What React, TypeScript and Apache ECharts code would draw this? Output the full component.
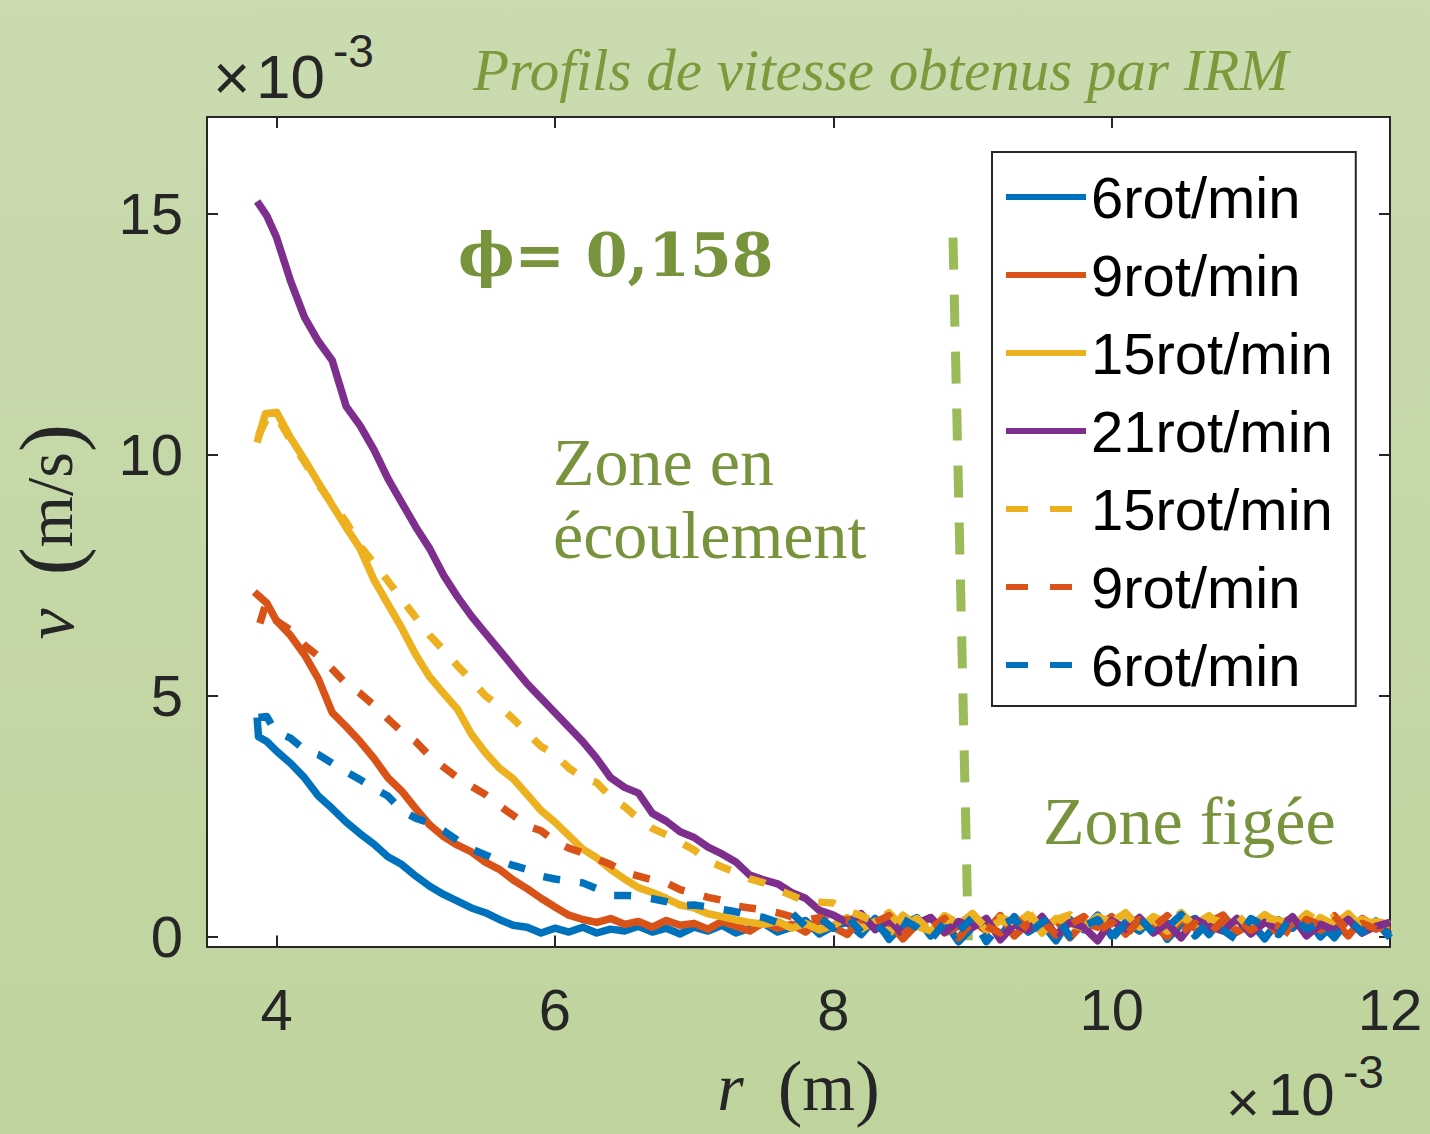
import React, { useEffect, useRef } from "react";
import * as echarts from "echarts";

// r grid (×10^-3 m)
const R = [
  4.0, 4.1, 4.2, 4.3, 4.4, 4.5, 4.6, 4.7, 4.8, 4.9,
  5.0, 5.1, 5.2, 5.3, 5.4, 5.5, 5.6, 5.7, 5.8, 5.9,
  6.0, 6.1, 6.2, 6.3, 6.4, 6.5, 6.6, 6.7, 6.8, 6.9,
  7.0, 7.1, 7.2, 7.3, 7.4, 7.5, 7.6, 7.7, 7.8, 7.9,
  8.0, 8.1, 8.2, 8.3, 8.4, 8.5, 8.6, 8.7, 8.8, 8.9,
  9.0, 9.1, 9.2, 9.3, 9.4, 9.5, 9.6, 9.7, 9.8, 9.9,
  10.0, 10.1, 10.2, 10.3, 10.4, 10.5, 10.6, 10.7, 10.8, 10.9,
  11.0, 11.1, 11.2, 11.3, 11.4, 11.5, 11.6, 11.7, 11.8, 11.9,
  12.0,
];

// first measured points (before r = 4)
const blueSolidHead = [[3.86, 4.55], [3.87, 4.15], [3.93, 4.05]];
const blueDashHead = [[3.87, 4.55], [3.93, 4.57], [3.97, 4.36]];
const redSolidHead = [[3.84, 7.15], [3.93, 6.92]];
const redDashHead = [[3.88, 6.5], [3.92, 6.88], [3.97, 6.65]];
const yellowSolidHead = [[3.86, 10.25], [3.92, 10.85]];
const yellowDashHead = [[3.87, 10.4], [3.93, 10.75]];
const purpleHead = [[3.86, 15.25], [3.93, 14.95]];

// v (×10^-3 m/s) on the R grid
const blueSolidV = [
  3.85, 3.6, 3.3, 2.92, 2.66, 2.38, 2.14, 1.92, 1.66, 1.5,
  1.26, 1.05, 0.88, 0.74, 0.6, 0.5, 0.36, 0.24, 0.2, 0.08,
  0.18, 0.1, 0.2, 0.08, 0.16, 0.12, 0.22, 0.1, 0.18, 0.06,
  0.2, 0.12, 0.24, 0.08, 0.18, 0.28, 0.1, 0.2, 0.34, 0.06,
  0.22, 0.3, 0.05, 0.38, -0.05, 0.25, 0.4, 0.02, 0.32, -0.1,
  0.2, 0.35, 0.0, 0.42, 0.1, 0.28, -0.08, 0.36, 0.15, 0.45,
  0.02, 0.3, 0.12, 0.4, -0.05, 0.26, 0.38, 0.05, 0.44, 0.1,
  0.3, -0.04, 0.35, 0.18, 0.42, 0.0, 0.28, 0.4, 0.08, 0.33,
  -0.02,
];
const blueDashV = [
  4.25, 4.12, 3.88, 3.78, 3.6, 3.42, 3.26, 3.08, 2.92, 2.62,
  2.46, 2.36, 2.2, 2.0, 1.82, 1.7, 1.58, 1.48, 1.4, 1.26,
  1.2, 1.16, 1.12, 1.0, 0.86, 0.86, 0.84, 0.79, 0.73, 0.65,
  0.66, 0.62, 0.57, 0.52, 0.45, 0.4, 0.3, 0.5, 0.22, 0.4,
  0.18, 0.42, 0.1, 0.28, 0.02, 0.36, 0.2, -0.06, 0.3, 0.12,
  0.4, -0.1, 0.24, 0.38, 0.06, 0.3, 0.45, 0.0, 0.22, 0.36,
  -0.04, 0.28, 0.4, 0.08, 0.2, 0.46, 0.02, 0.32, 0.14, -0.06,
  0.38, 0.22, 0.05, 0.44, 0.16, 0.3, -0.02, 0.36, 0.1, 0.26,
  0.04,
];
const redSolidV = [
  6.55, 6.25, 5.85, 5.35, 4.65, 4.36, 4.05, 3.7, 3.3, 3.02,
  2.66, 2.32, 2.08, 1.9, 1.76, 1.55, 1.4, 1.18, 1.0, 0.8,
  0.62, 0.45, 0.36, 0.3, 0.38, 0.26, 0.32, 0.2, 0.34, 0.24,
  0.28, 0.16, 0.32, 0.22, 0.12, 0.3, 0.18, 0.26, 0.1, 0.34,
  0.2, 0.05, 0.38, 0.18, 0.3, -0.04, 0.26, 0.4, 0.08, 0.22,
  0.34, 0.12, 0.44, 0.02, 0.28, 0.16, 0.36, -0.02, 0.3, 0.2,
  0.42, 0.06, 0.32, 0.24, 0.0, 0.38, 0.18, 0.3, 0.45, 0.1,
  0.26, 0.36, 0.06, 0.28, 0.4, 0.14, 0.32, 0.02, 0.38, 0.2,
  0.12,
];
const redDashV = [
  6.55, 6.36, 6.05, 5.82, 5.55, 5.25, 5.05, 4.8, 4.52, 4.25,
  4.05, 3.75, 3.52, 3.3, 3.12, 2.95, 2.72, 2.52, 2.3, 2.2,
  1.98, 1.84, 1.74, 1.62, 1.5, 1.34, 1.26, 1.18, 1.12, 0.98,
  0.9, 0.82, 0.76, 0.64, 0.6, 0.56, 0.5, 0.42, 0.34, 0.4,
  0.26, 0.36, 0.12, 0.3, 0.44, 0.04, 0.28, 0.18, 0.38, -0.02,
  0.32, 0.22, 0.08, 0.4, 0.16, 0.34, 0.04, 0.26, 0.42, 0.12,
  0.3, 0.02, 0.36, 0.2, 0.44, 0.1, 0.28, 0.06, 0.34, 0.4,
  0.14, 0.3, 0.22, 0.02, 0.36, 0.24, 0.44, 0.1, 0.28, 0.16,
  0.34,
];
const yellowSolidV = [
  10.88, 10.35, 9.9, 9.42, 8.95, 8.49, 8.05, 7.4, 6.9, 6.4,
  5.85, 5.39, 5.05, 4.72, 4.2, 3.82, 3.5, 3.28, 2.95, 2.62,
  2.38, 2.1, 1.82, 1.64, 1.4, 1.2, 1.02, 0.92, 0.8, 0.66,
  0.6, 0.48, 0.42, 0.35, 0.3, 0.26, 0.32, 0.18, 0.28, 0.14,
  0.24, 0.4, 0.16, 0.32, 0.06, 0.45, 0.22, 0.12, 0.36, 0.26,
  0.48, 0.14, 0.34, 0.24, 0.46, 0.08, 0.38, 0.28, 0.18, 0.42,
  0.3, 0.5, 0.2, 0.36, 0.12, 0.42, 0.26, 0.44, 0.16, 0.34,
  0.22, 0.46, 0.28, 0.38, 0.12, 0.4, 0.24, 0.48, 0.18, 0.32,
  0.26,
];
const yellowDashV = [
  10.8, 10.3, 9.85, 9.38, 8.98, 8.6, 8.1, 7.75, 7.38, 7.0,
  6.62, 6.25, 5.95, 5.62, 5.32, 5.0, 4.78, 4.52, 4.23, 3.95,
  3.78, 3.5, 3.3, 3.2, 2.9, 2.7, 2.45, 2.25, 2.12, 1.96,
  1.8, 1.58, 1.45, 1.34, 1.2, 1.12, 0.98, 0.86, 0.74, 0.72,
  0.7, 0.54, 0.44, 0.3, 0.5, 0.2, 0.38, 0.12, 0.44, 0.28,
  0.48, 0.18, 0.4, 0.3, 0.52, 0.14, 0.36, 0.46, 0.22, 0.4,
  0.32, 0.48, 0.18, 0.42, 0.28, 0.5, 0.2, 0.38, 0.3, 0.46,
  0.16, 0.4, 0.34, 0.22, 0.48, 0.3, 0.42, 0.12, 0.36, 0.26,
  0.4,
];
const purpleV = [
  14.5, 13.6, 12.85, 12.35, 11.95, 11.0, 10.6, 10.1, 9.5, 9.0,
  8.5, 8.05, 7.5, 7.05, 6.65, 6.3, 5.95, 5.6, 5.25, 4.95,
  4.65, 4.35, 4.05, 3.7, 3.3, 3.1, 2.98, 2.56, 2.4, 2.18,
  2.06, 1.86, 1.72, 1.55, 1.28, 1.18, 1.1, 0.92, 0.8, 0.55,
  0.45, 0.3, 0.48, 0.15, 0.36, 0.05, 0.28, 0.4, 0.1, 0.32,
  0.2, 0.38, -0.06, 0.26, 0.14, 0.42, 0.04, 0.3, 0.2, -0.08,
  0.34, 0.16, 0.4, 0.08, 0.28, -0.02, 0.36, 0.22, 0.12, 0.38,
  0.06, 0.3, 0.18, 0.42, 0.02, 0.26, 0.14, 0.36, 0.08, 0.22,
  0.3,
];

// boundary between flowing and frozen zones (slightly tilted dashed line)
const zoneBoundary = [[8.86, 14.5], [8.97, -0.07]];

const xTicks = [4, 6, 8, 10, 12];
const yTicks = [0, 5, 10, 15];

const BLUE = "#0072BD";
const RED = "#D95319";
const YELLOW = "#EDB120";
const PURPLE = "#7E2F8E";
const GREEN = "#77933C";
const LIGHTGREEN = "#9BBB59";
const AXIS = "#262626";
const SANS = "'Liberation Sans', Arial, Helvetica, sans-serif";
const SERIF = "'Liberation Serif', 'Times New Roman', serif";
const DASH_SUFFIX = " (tirets)";
const NB = "\u00A0";

export default function App() {
  const ref = useRef<HTMLDivElement>(null);

  useEffect(() => {
    if (!ref.current) return;
    const chart = echarts.init(ref.current, null, { renderer: "svg" });
    const lw = 7.5;
    const mk = (name: string, color: string, dashed: boolean, head: number[][], v: number[]) => ({
      name: dashed ? name + DASH_SUFFIX : name,
      type: "line",
      data: head.concat(R.map((r, i) => [r, v[i]])),
      showSymbol: false,
      symbol: "none",
      lineStyle: { color, width: lw, type: dashed ? [17, 20] : "solid", join: "round" },
      itemStyle: { color },
      emphasis: { disabled: true },
      z: 3,
    });

    const series: any[] = [
      {
        name: "frontière",
        type: "line",
        data: zoneBoundary,
        showSymbol: false,
        symbol: "none",
        lineStyle: { color: LIGHTGREEN, width: 9, type: [32, 25] },
        emphasis: { disabled: true },
        z: 2,
      },
      mk("6rot/min", BLUE, false, blueSolidHead, blueSolidV),
      mk("9rot/min", RED, false, redSolidHead, redSolidV),
      mk("15rot/min", YELLOW, false, yellowSolidHead, yellowSolidV),
      mk("21rot/min", PURPLE, false, purpleHead, purpleV),
      mk("15rot/min", YELLOW, true, yellowDashHead, yellowDashV),
      mk("9rot/min", RED, true, redDashHead, redDashV),
      mk("6rot/min", BLUE, true, blueDashHead, blueDashV),
    ];

    const legendData = series
      .filter((s) => s.name !== "frontière")
      .map((s) =>
        s.name.endsWith(DASH_SUFFIX)
          ? { name: s.name, lineStyle: { type: [22, 22] } }
          : { name: s.name }
      );

    const tickLabel = { fontFamily: SANS, fontSize: 58, color: AXIS };

    chart.setOption({
      animation: false,
      backgroundColor: "transparent",
      grid: {
        left: 207,
        right: 40,
        top: 117,
        bottom: 187.5,
        show: true,
        backgroundColor: "#ffffff",
        borderWidth: 0,
        containLabel: false,
        outerBoundsMode: "none",
      },
      legend: {
        orient: "vertical",
        left: 992,
        top: 152,
        padding: [15, 23, 11, 11],
        itemWidth: 80,
        itemHeight: 2,
        itemGap: 18,
        backgroundColor: "#ffffff",
        borderColor: AXIS,
        borderWidth: 2,
        borderRadius: 0,
        lineStyle: { width: 6 },
        itemStyle: { opacity: 0 },
        selectedMode: false,
        data: legendData,
        formatter: (n: string) => n.replace(DASH_SUFFIX, ""),
        textStyle: { fontFamily: SANS, fontSize: 58, color: "#000", lineHeight: 60 },
      },
      xAxis: [
        {
          type: "value",
          min: 3.5,
          max: 12,
          position: "bottom",
          axisLine: { show: true, onZero: false, lineStyle: { color: AXIS, width: 2 } },
          axisTick: { show: true, inside: true, length: 11, customValues: xTicks, lineStyle: { color: AXIS, width: 2 } },
          axisLabel: { show: true, customValues: xTicks, margin: 34, ...tickLabel },
          splitLine: { show: false },
          name: "{i|r}{m|" + NB + NB + "}{p|(}{m|m}{p|)}",
          nameLocation: "middle",
          nameGap: 103,
          nameTextStyle: {
            rich: {
              i: { fontFamily: SERIF, fontStyle: "italic", fontSize: 68, color: AXIS },
              m: { fontFamily: SERIF, fontSize: 68, color: AXIS },
              p: { fontFamily: SERIF, fontSize: 74, color: AXIS },
            },
          },
        },
        {
          type: "value",
          min: 3.5,
          max: 12,
          position: "top",
          axisLine: { show: true, onZero: false, lineStyle: { color: AXIS, width: 2 } },
          axisTick: { show: true, inside: true, length: 11, customValues: xTicks, lineStyle: { color: AXIS, width: 2 } },
          axisLabel: { show: false },
          splitLine: { show: false },
        },
      ],
      yAxis: [
        {
          type: "value",
          min: -0.2,
          max: 17,
          position: "left",
          axisLine: { show: true, onZero: false, lineStyle: { color: AXIS, width: 2 } },
          axisTick: { show: true, inside: true, length: 11, customValues: yTicks, lineStyle: { color: AXIS, width: 2 } },
          axisLabel: { show: true, customValues: yTicks, margin: 24, ...tickLabel },
          splitLine: { show: false },
          name: "{i|v}{m|" + NB + NB + "}{p|(}{m|m/s}{p|)}",
          nameLocation: "middle",
          nameRotate: 90,
          nameGap: 116,
          nameTextStyle: {
            rich: {
              i: { fontFamily: SERIF, fontStyle: "italic", fontSize: 70, color: AXIS },
              m: { fontFamily: SERIF, fontSize: 66, color: AXIS },
              p: { fontFamily: SERIF, fontSize: 84, color: AXIS },
            },
          },
        },
        {
          type: "value",
          min: -0.2,
          max: 17,
          position: "right",
          axisLine: { show: true, onZero: false, lineStyle: { color: AXIS, width: 2 } },
          axisTick: { show: true, inside: true, length: 11, customValues: yTicks, lineStyle: { color: AXIS, width: 2 } },
          axisLabel: { show: false },
          splitLine: { show: false },
        },
      ],
      series,
      graphic: [
        {
          type: "text",
          left: 473,
          top: 40,
          style: {
            text: "Profils de vitesse obtenus par IRM",
            fontFamily: SERIF,
            fontStyle: "italic",
            fontSize: 59,
            fill: "#7A9A3C",
          },
          z: 10,
        },
        { type: "text", left: 213, top: 46, style: { text: "×", fontFamily: SANS, fontSize: 64, fill: AXIS } },
        { type: "text", left: 256, top: 45, style: { text: "10", fontFamily: SANS, fontSize: 62, fill: AXIS } },
        { type: "text", left: 333, top: 28, style: { text: "-3", fontFamily: SANS, fontSize: 46, fill: AXIS } },
        { type: "text", left: 1226, top: 1072, style: { text: "×", fontFamily: SANS, fontSize: 58, fill: AXIS } },
        { type: "text", left: 1268, top: 1064, style: { text: "10", fontFamily: SANS, fontSize: 60, fill: AXIS } },
        { type: "text", left: 1343, top: 1049, style: { text: "-3", fontFamily: SANS, fontSize: 46, fill: AXIS } },
        {
          type: "text",
          left: 458,
          top: 225,
          style: { text: "ϕ= 0,158", fontFamily: "'DejaVu Serif', serif", fontWeight: "bold", fontSize: 60, fill: GREEN },
          z: 10,
        },
        { type: "text", left: 553, top: 428, style: { text: "Zone en", fontFamily: SERIF, fontSize: 68, fill: GREEN }, z: 10 },
        { type: "text", left: 553, top: 501, style: { text: "écoulement", fontFamily: SERIF, fontSize: 68, fill: GREEN }, z: 10 },
        { type: "text", left: 1043, top: 787, style: { text: "Zone figée", fontFamily: SERIF, fontSize: 68, fill: GREEN }, z: 10 },
      ],
    });

    return () => chart.dispose();
  }, []);

  return (
    <div
      ref={ref}
      style={{
        position: "fixed",
        left: 0,
        top: 0,
        width: 1430,
        height: 1134,
        background: "linear-gradient(180deg, #cadbb0 0%, #bfd49d 100%)",
      }}
    />
  );
}
